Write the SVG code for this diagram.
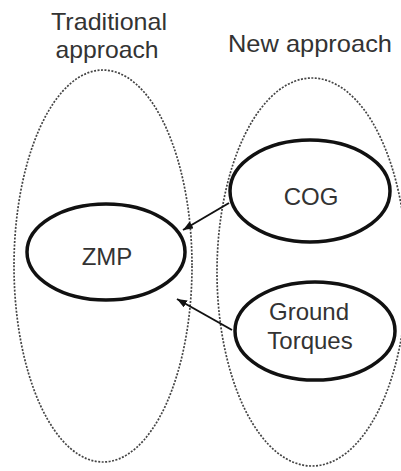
<svg xmlns="http://www.w3.org/2000/svg" width="401" height="471" viewBox="0 0 401 471">
<defs>
<marker id="ah" viewBox="0 0 10 8" refX="10" refY="4" markerWidth="10" markerHeight="8" markerUnits="userSpaceOnUse" orient="auto">
<path d="M0,0 L10,4 L0,8 Z" fill="#111"/>
</marker>
</defs>
<style>
.grp{fill:none;stroke:#444;stroke-width:1.7;stroke-dasharray:2 1.5}
.node{fill:#fff;stroke:#111;stroke-width:3.5}
.lbl{font-family:"Liberation Sans",Arial,sans-serif;font-size:24px;fill:#333;text-anchor:middle}
.top{font-size:24px}
.edge{stroke:#111;stroke-width:2;fill:none}
</style>
<rect width="401" height="471" fill="#fff"/>
<g id="traditional">
<ellipse class="grp" cx="103" cy="266" rx="89" ry="196"/>
<text class="lbl top" x="109" y="30" textLength="116" lengthAdjust="spacingAndGlyphs">Traditional</text>
<text class="lbl top" x="107" y="58" textLength="103" lengthAdjust="spacingAndGlyphs">approach</text>
</g>
<g id="new">
<ellipse class="grp" cx="312" cy="272" rx="95" ry="194"/>
<text class="lbl top" x="310" y="52" textLength="164" lengthAdjust="spacingAndGlyphs">New approach</text>
</g>
<g id="zmp">
<ellipse class="node" cx="106" cy="252" rx="79" ry="48"/>
<text class="lbl" x="107" y="265">ZMP</text>
</g>
<g id="cog">
<ellipse class="node" cx="310" cy="191" rx="80" ry="51"/>
<text class="lbl" x="311" y="205">COG</text>
</g>
<g id="ground">
<ellipse class="node" cx="315" cy="331" rx="80" ry="49"/>
<text class="lbl" x="309" y="320">Ground</text>
<text class="lbl" x="310" y="349">Torques</text>
</g>
<g id="connectors">
<line class="edge" x1="229" y1="203" x2="183" y2="230" marker-end="url(#ah)"/>
<line class="edge" x1="232" y1="330" x2="177" y2="299" marker-end="url(#ah)"/>
</g>
</svg>
